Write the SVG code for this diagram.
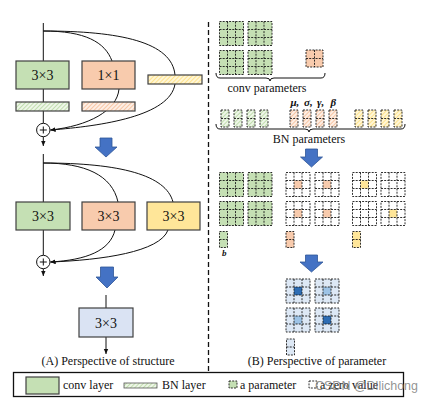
<svg xmlns="http://www.w3.org/2000/svg" xmlns:xlink="http://www.w3.org/1999/xlink" width="433" height="402" viewBox="0 0 433 402">
<style>
.t{font-family:"Liberation Serif","Times New Roman",serif;fill:#111}
.lbl{font-size:14px;text-anchor:middle}
.cap{font-size:12px}
.box{stroke:#404040;stroke-width:1.2}
.ln{fill:none;stroke:#111;stroke-width:1}
.dash{fill:none;stroke:#1a1a1a;stroke-width:0.9;stroke-dasharray:2 1.2}
.arr{fill:#4472c4;stroke:#2f5597;stroke-width:0.8}
.g{fill:#c5e0b4}.o{fill:#f8cbad}.y{fill:#ffe699}.w{fill:#fff}.bl{fill:#dde8f5}
</style>
<defs>
<pattern id="hg" patternUnits="userSpaceOnUse" width="3" height="3" patternTransform="rotate(45)"><rect width="3" height="3" fill="#eef6e8"/><line x1="0" y1="0" x2="0" y2="3" stroke="#a9d18e" stroke-width="1.3"/></pattern>
<pattern id="ho" patternUnits="userSpaceOnUse" width="3" height="3" patternTransform="rotate(45)"><rect width="3" height="3" fill="#fdeee4"/><line x1="0" y1="0" x2="0" y2="3" stroke="#f4b183" stroke-width="1.3"/></pattern>
<pattern id="hy" patternUnits="userSpaceOnUse" width="3" height="3" patternTransform="rotate(45)"><rect width="3" height="3" fill="#fff6d6"/><line x1="0" y1="0" x2="0" y2="3" stroke="#ffd966" stroke-width="1.3"/></pattern>
<path id="k3" class="dash" d="M0,0H24V24H0Z M8,0V24 M16,0V24 M0,8H24 M0,16H24"/>
<path id="k2" class="dash" d="M0,0H17V17H0Z M8.5,0V17 M0,8.5H17"/>
<path id="v2" class="dash" d="M0,0H8V17H0Z M0,8.5H8"/>
<path id="v2s" class="dash" d="M0,0H8V16H0Z M0,8H8"/>
<marker id="ah" markerWidth="6" markerHeight="6" refX="5" refY="3" orient="auto" markerUnits="userSpaceOnUse"><path d="M0,0.8L5,3L0,5.2Z" fill="#111"/></marker>
</defs>
<rect width="433" height="402" fill="#fff"/>

<g id="connectors">
<path class="ln" d="M43.3,23V61 M43.3,89V102 M43.3,111V123.3"/>
<path class="ln" d="M43.3,31C85,31 105,42 112,61"/>
<path class="ln" d="M43.3,31C120,31 172,42 175,75"/>
<path class="ln" d="M119,89C117,111 88,126 50.5,130" marker-end="url(#ah)"/>
<path class="ln" d="M175,84C170,116 102,126 50.5,130" marker-end="url(#ah)"/>
<path class="ln" d="M43.3,136.7V146" marker-end="url(#ah)"/>
<path class="ln" d="M43.3,154V202 M43.3,230V255.3"/>
<path class="ln" d="M43.3,163C85,163 112,175 118,202"/>
<path class="ln" d="M43.3,163C120,163 166,175 173,202"/>
<path class="ln" d="M115,230C110,251 86,260 50.5,262" marker-end="url(#ah)"/>
<path class="ln" d="M168,230C160,252 102,260 50.5,262" marker-end="url(#ah)"/>
<path class="ln" d="M43.3,268.7V276" marker-end="url(#ah)"/>
<path class="ln" d="M106,295V308"/>
<path class="ln" d="M106,337V354" marker-end="url(#ah)"/>
</g>

<g id="block1">
<rect id="conv3a" class="box g" x="16" y="61" width="53" height="28"/>
<text class="t lbl" x="42.5" y="80">3×3</text>
<rect class="box o" x="82" y="61" width="53" height="28"/>
<text class="t lbl" x="108.5" y="80">1×1</text>
<rect class="box" x="16" y="102" width="53" height="9" fill="url(#hg)"/>
<rect class="box" x="82" y="102" width="53" height="9" fill="url(#ho)"/>
<rect class="box" x="148" y="75" width="54" height="9" fill="url(#hy)"/>
<circle cx="43.3" cy="130" r="6.7" fill="#fff" stroke="#111" stroke-width="1"/>
<path class="ln" d="M39.8,130H46.8M43.3,126.5V133.5" stroke-width="0.8"/>
</g>

<g id="block2">
<rect class="box g" x="16" y="202" width="54" height="28"/>
<text class="t lbl" x="43" y="221">3×3</text>
<rect class="box o" x="82" y="202" width="53" height="28"/>
<text class="t lbl" x="108.5" y="221">3×3</text>
<rect class="box y" x="147" y="202" width="53" height="28"/>
<text class="t lbl" x="173.5" y="221">3×3</text>
<circle cx="43.3" cy="262" r="6.7" fill="#fff" stroke="#111" stroke-width="1"/>
<path class="ln" d="M39.8,262H46.8M43.3,258.5V265.5" stroke-width="0.8"/>
</g>

<g id="block3">
<rect class="box" x="79" y="308" width="54" height="29" fill="#dae3f3"/>
<text class="t lbl" x="106" y="327.5">3×3</text>
</g>

<g id="arrows">
<path class="arr" d="M100,138H112V147H117L106,157L95,147H100Z"/>
<path class="arr" d="M100.5,267H113.5V277H118L107,288L96,277H100.5Z"/>
<path class="arr" d="M305.5,149H317.5V157H322.5L311.5,167L300.5,157H305.5Z"/>
<path class="arr" d="M305.5,255H317.5V262H323L311.5,272L300,262H305.5Z"/>
</g>

<text class="t cap" x="108" y="365" text-anchor="middle">(A) Perspective of structure</text>
<line x1="208.5" y1="22" x2="208.5" y2="371" stroke="#111" stroke-width="1.3" stroke-dasharray="5 3"/>

<g id="conv-params">
<rect class="g" x="219.5" y="21.5" width="24" height="24"/><use xlink:href="#k3" x="219.5" y="21.5"/>
<rect class="g" x="248" y="21.5" width="24" height="24"/><use xlink:href="#k3" x="248" y="21.5"/>
<rect class="g" x="219.5" y="50.5" width="24" height="24"/><use xlink:href="#k3" x="219.5" y="50.5"/>
<rect class="g" x="248" y="50.5" width="24" height="24"/><use xlink:href="#k3" x="248" y="50.5"/>
<rect class="o" x="306" y="50" width="17" height="17"/><use xlink:href="#k2" x="306" y="50"/>
<path class="ln" d="M216,73Q216,78 220,78H266Q270,78 270,81Q270,78 274,78H321Q325,78 325,73"/>
<text class="t cap" x="267" y="92" text-anchor="middle">conv parameters</text>
</g>

<g id="bn-params">
<text class="t" font-size="11" font-weight="bold" font-style="italic" y="106"><tspan x="290.5">μ,</tspan><tspan x="304">σ,</tspan><tspan x="317">γ,</tspan><tspan x="330.5">β</tspan></text>
<rect x="221" y="110" width="8" height="17" fill="url(#hg)"/><use xlink:href="#v2" x="221" y="110"/>
<rect x="234" y="110" width="8" height="17" fill="url(#hg)"/><use xlink:href="#v2" x="234" y="110"/>
<rect x="247" y="110" width="8" height="17" fill="url(#hg)"/><use xlink:href="#v2" x="247" y="110"/>
<rect x="260" y="110" width="8" height="17" fill="url(#hg)"/><use xlink:href="#v2" x="260" y="110"/>
<rect x="290" y="110" width="8" height="17" fill="url(#ho)"/><use xlink:href="#v2" x="290" y="110"/>
<rect x="303" y="110" width="8" height="17" fill="url(#ho)"/><use xlink:href="#v2" x="303" y="110"/>
<rect x="316" y="110" width="8" height="17" fill="url(#ho)"/><use xlink:href="#v2" x="316" y="110"/>
<rect x="329" y="110" width="8" height="17" fill="url(#ho)"/><use xlink:href="#v2" x="329" y="110"/>
<rect x="355" y="110" width="8" height="17" fill="url(#hy)"/><use xlink:href="#v2" x="355" y="110"/>
<rect x="368" y="110" width="8" height="17" fill="url(#hy)"/><use xlink:href="#v2" x="368" y="110"/>
<rect x="381" y="110" width="8" height="17" fill="url(#hy)"/><use xlink:href="#v2" x="381" y="110"/>
<rect x="394" y="110" width="8" height="17" fill="url(#hy)"/><use xlink:href="#v2" x="394" y="110"/>
<path class="ln" d="M216,124Q216,129 220,129H305Q309,129 309,132Q309,129 313,129H401Q405,129 405,124"/>
<text class="t cap" x="309" y="143" text-anchor="middle">BN parameters</text>
</g>

<g id="merged-branches">
<rect class="g" x="219.5" y="172.5" width="24" height="24"/><use xlink:href="#k3" x="219.5" y="172.5"/>
<rect class="g" x="248" y="172.5" width="24" height="24"/><use xlink:href="#k3" x="248" y="172.5"/>
<rect class="g" x="219.5" y="201.5" width="24" height="24"/><use xlink:href="#k3" x="219.5" y="201.5"/>
<rect class="g" x="248" y="201.5" width="24" height="24"/><use xlink:href="#k3" x="248" y="201.5"/>
<rect class="o" x="294" y="180.5" width="8" height="8"/><use xlink:href="#k3" x="286" y="172.5"/>
<rect class="o" x="323" y="180.5" width="8" height="8"/><use xlink:href="#k3" x="315" y="172.5"/>
<rect class="o" x="294" y="209.5" width="8" height="8"/><use xlink:href="#k3" x="286" y="201.5"/>
<rect class="o" x="323" y="209.5" width="8" height="8"/><use xlink:href="#k3" x="315" y="201.5"/>
<rect class="y" x="360.5" y="180.5" width="8" height="8"/><use xlink:href="#k3" x="352.5" y="172.5"/>
<use xlink:href="#k3" x="381" y="172.5"/>
<use xlink:href="#k3" x="352.5" y="201.5"/>
<rect class="y" x="389" y="209.5" width="8" height="8"/><use xlink:href="#k3" x="381" y="201.5"/>
<rect class="g" x="219.5" y="231.5" width="8" height="16"/><use xlink:href="#v2s" x="219.5" y="231.5"/>
<rect class="o" x="286" y="231.5" width="8" height="16"/><use xlink:href="#v2s" x="286" y="231.5"/>
<rect class="y" x="352.5" y="231.5" width="8" height="16"/><use xlink:href="#v2s" x="352.5" y="231.5"/>
<text class="t" x="222" y="256" font-size="9" font-weight="bold" font-style="italic">b</text>
</g>

<g id="merged-kernel">
<rect class="bl" x="286" y="279" width="24" height="24"/><rect x="294" y="287" width="8" height="8" fill="#2e6db4"/><use xlink:href="#k3" x="286" y="279"/>
<rect class="bl" x="315" y="279" width="24" height="24"/><rect x="323" y="287" width="8" height="8" fill="#9dc3e6"/><use xlink:href="#k3" x="315" y="279"/>
<rect class="bl" x="286" y="308" width="24" height="24"/><rect x="294" y="316" width="8" height="8" fill="#9dc3e6"/><use xlink:href="#k3" x="286" y="308"/>
<rect class="bl" x="315" y="308" width="24" height="24"/><rect x="323" y="316" width="8" height="8" fill="#2e6db4"/><use xlink:href="#k3" x="315" y="308"/>
<rect class="bl" x="286.5" y="339" width="8" height="16"/><use xlink:href="#v2s" x="286.5" y="339"/>
</g>
<text class="t cap" x="317" y="365" text-anchor="middle">(B) Perspective of parameter</text>

<g id="legend">
<rect x="13.5" y="372.5" width="390" height="24" fill="#fff" stroke="#111" stroke-width="1.3"/>
<rect class="box g" x="26" y="377" width="33" height="17"/>
<text class="t cap" x="63" y="389">conv layer</text>
<rect x="124" y="383" width="33" height="5" fill="url(#hg)" stroke="#555" stroke-width="0.8"/>
<text class="t cap" x="162" y="389">BN layer</text>
<rect class="g" x="229" y="381" width="8" height="7"/><rect class="dash" x="229" y="381" width="8" height="7"/>
<text class="t cap" x="240" y="389">a parameter</text>
<rect class="w dash" x="309" y="381" width="8" height="7"/>
<text class="t cap" x="320" y="389">a zero value</text>
<text x="315" y="390" font-family="'Liberation Sans',Arial,sans-serif" font-size="12.5" fill="#777" fill-opacity="0.8">CSDN @Dllichong</text>
</g>
</svg>
